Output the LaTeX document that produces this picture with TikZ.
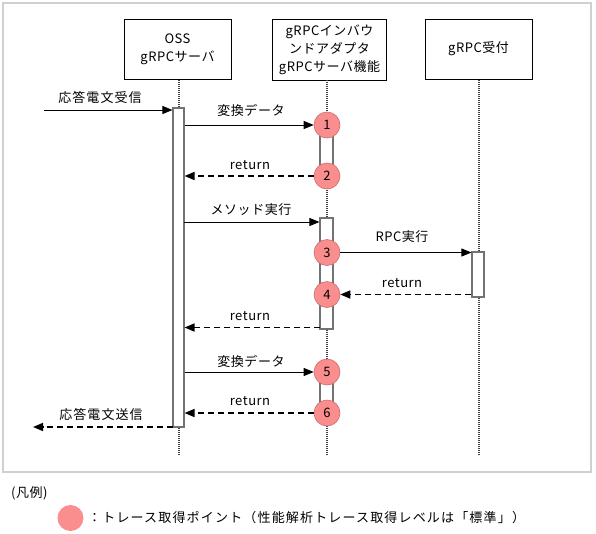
\documentclass[tikz,border=0pt]{standalone}
\usepackage{fontspec}
\setmainfont{Noto Sans CJK JP}[LetterSpace=4]
\usetikzlibrary{arrows.meta}
\definecolor{pinkfill}{RGB}{250,142,142}
\definecolor{pinkedge}{RGB}{205,110,110}
\definecolor{framegray}{RGB}{208,208,208}
\begin{document}
\begin{tikzpicture}[x=1pt,y=-1pt,
  every node/.style={font=\fontsize{13}{18}\selectfont, inner sep=0pt},
  actor/.style={draw=black, line width=0.8pt, fill=white, align=center},
  lifeline/.style={draw=black!75, line width=1.2pt, dash pattern=on 1pt off 1pt},
  actbar/.style={draw=black!55, line width=1.1pt, fill=white, minimum width=11pt},
  tracept/.style={circle, draw=pinkedge, line width=0.6pt, fill=pinkfill, minimum size=26pt},
  msg/.style={draw=black, line width=0.8pt, -{Triangle[length=10pt,width=8pt]}},
  ret/.style={draw=black, line width=1.6pt, dash pattern=on 6pt off 4pt, -{Triangle[length=10pt,width=8pt]}},
  lbl/.style={anchor=center}
]
\useasboundingbox (0,0) rectangle (596,533);
\fill[white] (0,0) rectangle (596,533);
\draw[framegray, line width=2.6pt] (3,3) rectangle (591,472);

% actors
\node[actor, minimum width=107pt, minimum height=60pt] (L1) at (177.5,49) {OSS\\gRPCサーバ};
\node[actor, minimum width=114pt, minimum height=61pt] (L2) at (329.5,49.5) {gRPCインバウ\\ンドアダプタ\\gRPCサーバ機能};
\node[actor, minimum width=107pt, minimum height=60pt] (L3) at (478.5,49) {gRPC受付};

% lifelines
\coordinate (t1) at (179,80); \coordinate (b1) at (179,456);
\coordinate (t2) at (327,80); \coordinate (b2) at (327,456);
\coordinate (t3) at (479,80); \coordinate (b3) at (479,456);
\draw[lifeline] (t1) -- (b1);
\draw[lifeline] (t2) -- (b2);
\draw[lifeline] (t3) -- (b3);

% activation bars
\node[actbar, minimum height=319pt] (A1) at (178.5,267.5) {};
\node[actbar, minimum width=13pt, minimum height=51pt] (A2) at (326.5,150.5) {};
\node[actbar, minimum width=13pt, minimum height=111pt] (A3) at (326.5,273.5) {};
\node[actbar, minimum width=12pt, minimum height=45pt] (A4) at (478,274.5) {};
\node[actbar, minimum width=13pt, minimum height=41pt] (A5) at (326.5,392.5) {};

% trace points
\node[tracept] (c1) at (327,125) {1};
\node[tracept] (c2) at (327,176) {2};
\node[tracept] (c3) at (327,252.5) {3};
\node[tracept] (c4) at (327,294.5) {4};
\node[tracept] (c5) at (327,372) {5};
\node[tracept] (c6) at (327,413) {6};

% messages
\coordinate (in0) at (44,110);
\draw[msg] (in0) -- (in0 -| A1.west);
\node[lbl] (l0) at (100,97) {\addfontfeature{LetterSpace=8}応答電文受信};

\draw[msg] (A1.east |- c1) -- (c1);
\node[lbl] (l1) at (251,110) {変換データ};

\draw[ret] (c2) -- (A1.east |- c2);
\node[lbl] (l2) at (250,165.5) {return};

\coordinate (m2) at (184,222);
\draw[msg] (m2) -- (m2 -| A3.west);
\node[lbl] (l3) at (251,210) {メソッド実行};

\draw[msg] (c3) -- (A4.west |- c3);
\node[lbl] (l4) at (402,237) {RPC実行};

\draw[ret] (A4.west |- c4) -- (c4);
\node[lbl] (l5) at (402,283.5) {return};

\coordinate (r2) at (320,327.5);
\draw[ret] (r2) -- (r2 -| A1.east);
\node[lbl] (l6) at (250,316.5) {return};

\draw[msg] (A1.east |- c5) -- (c5);
\node[lbl] (l7) at (251,361.5) {変換データ};

\draw[ret] (c6) -- (A1.east |- c6);
\node[lbl] (l8) at (250,401.5) {return};

\coordinate (out0) at (173,427);
\coordinate (out1) at (33,427);
\draw[ret] (out0) -- (out1);
\node[lbl] (l9) at (101,414.5) {\addfontfeature{LetterSpace=8}応答電文送信};

% legend
\node[anchor=west] (lg) at (11,493) {(凡例)};
\node[tracept, draw=none, minimum size=26pt] (lc) at (70.5,518) {};
\node[anchor=west] (lt) at (88,518) {\addfontfeature{LetterSpace=9}：トレース取得ポイント（性能解析トレース取得レベルは「標準」）};
\end{tikzpicture}
\end{document}
